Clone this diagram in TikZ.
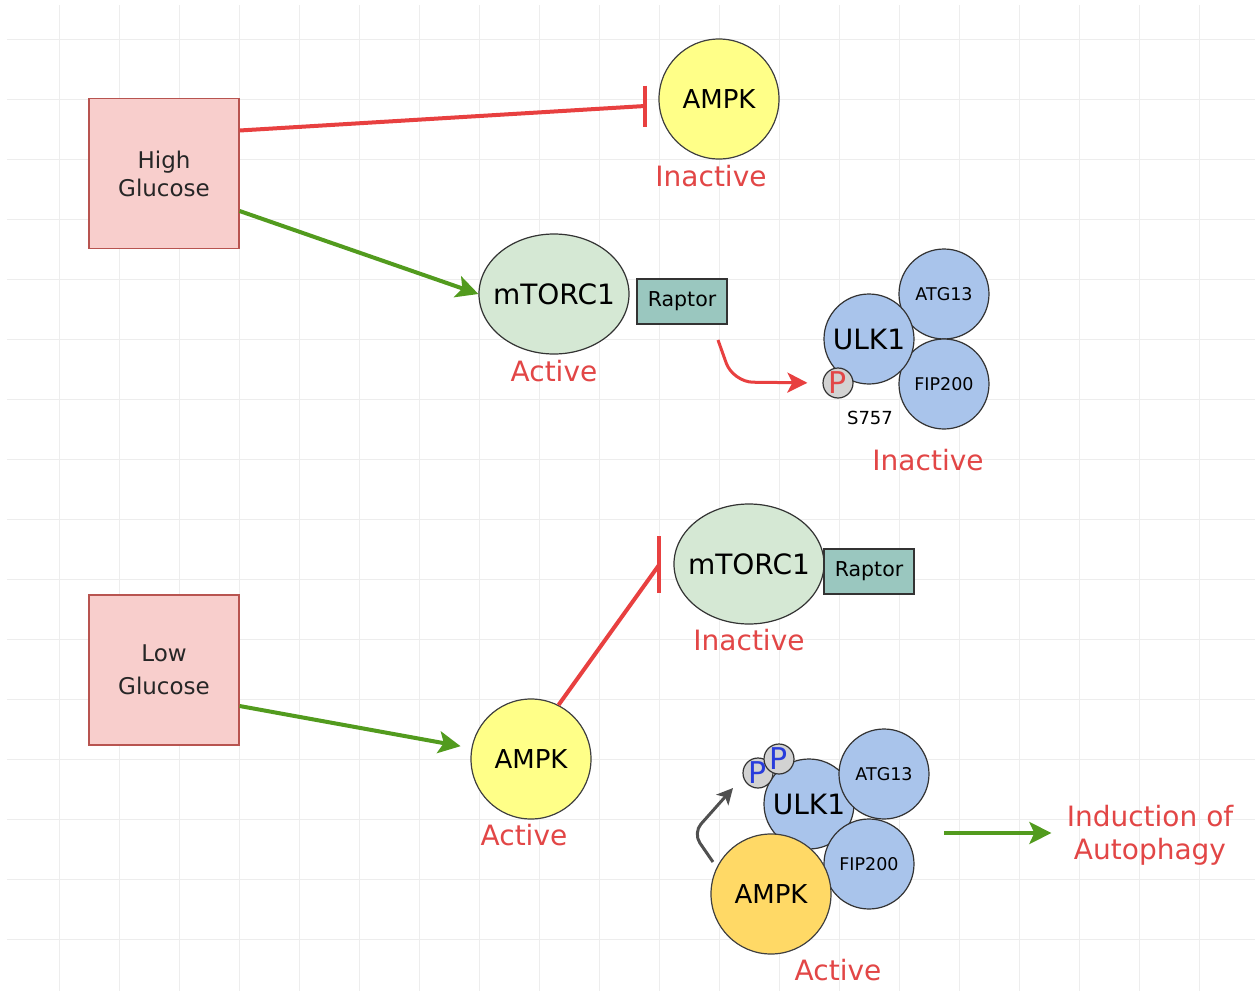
\documentclass[tikz,border=0pt]{standalone}
\usepackage{fontspec}
\setmainfont{DejaVu Sans}
\usetikzlibrary{arrows.meta,calc,shapes.geometric}
\definecolor{inhred}{RGB}{232,64,64}
\definecolor{statered}{RGB}{226,70,70}
\definecolor{actgreen}{RGB}{82,155,30}
\definecolor{glucosefill}{RGB}{248,206,204}
\definecolor{glucoseline}{RGB}{184,84,80}
\definecolor{ampkfill}{RGB}{255,255,136}
\definecolor{ampkon}{RGB}{255,217,102}
\definecolor{mtorfill}{RGB}{213,232,212}
\definecolor{raptorfill}{RGB}{154,199,191}
\definecolor{ulkfill}{RGB}{169,196,235}
\definecolor{pfill}{RGB}{210,210,210}
\definecolor{pblue}{RGB}{40,60,220}
\definecolor{kingray}{RGB}{80,80,80}
\begin{document}
\begin{tikzpicture}[x=0.5pt,y=-0.5pt,
	gridline/.style={draw=black!7,line width=0.5pt},
	glucose/.style={draw=glucoseline,fill=glucosefill,line width=0.6pt,minimum size=75pt,inner sep=0pt,align=center,text=black!85},
	ampk/.style={circle,draw=black!75,fill=ampkfill,line width=0.6pt,minimum size=60pt,inner sep=0pt,font=\fontsize{13}{15}\selectfont},
	mtor/.style={ellipse,draw=black!80,fill=mtorfill,line width=0.6pt,minimum width=75pt,minimum height=60pt,inner xsep=-5pt,inner ysep=0pt,font=\fontsize{14}{16}\selectfont},
	raptor/.style={draw=black!80,fill=raptorfill,line width=0.6pt,minimum width=45pt,minimum height=22.5pt,inner sep=0pt,font=\fontsize{10.25}{12}\selectfont},
	ulk/.style={circle,draw=black!80,fill=ulkfill,line width=0.6pt,minimum size=45pt,inner sep=0pt,font=\fontsize{14}{16}\selectfont},
	sub/.style={ulk,font=\fontsize{8.75}{10}\selectfont},
	phos/.style={circle,draw=black!80,fill=pfill,line width=0.6pt,minimum size=15pt,inner sep=-3pt,font=\fontsize{15}{15}\selectfont},
	state/.style={text=statered,inner sep=0pt,font=\fontsize{14}{16.5}\selectfont},
	inhibit/.style={draw=inhred,line width=2pt},
	activate/.style={draw=actgreen,line width=2pt,-{Stealth[length=11pt,width=11pt,inset=2.5pt]}},
	signal/.style={draw=inhred,line width=1.5pt,-{Stealth[length=10pt,width=10pt,inset=2.5pt]}},
	kinase/.style={draw=kingray,line width=1.5pt,-{Stealth[length=8pt,width=8pt,inset=2pt]}}]
	\useasboundingbox (0,0) rectangle (1255,991);
	\fill[white] (0,0) rectangle (1255,991);
	\foreach \x in {59,119,...,1199}
		\draw[gridline] (\x,5) -- (\x,991);
	\foreach \y in {39,99,...,939}
		\draw[gridline] (7,\y) -- (1255,\y);

	\node[glucose,font=\fontsize{11.5}{14}\selectfont] (hg) at (164,173.5) {High\\Glucose};
	\node[glucose,font=\fontsize{11.5}{16.5}\selectfont] (lg) at (164,670) {Low\\Glucose};

	\node[ampk] (ampk1) at (719,99) {AMPK};
	\node[state] (ampk1st) at (711,176) {Inactive};
	\coordinate (bar1) at (645,106);
	\draw[inhibit] ($(hg.east)+(0,-43)$) -- (bar1);
	\draw[inhibit] ($(bar1)+(0,-20.5)$) -- ($(bar1)+(0,20.5)$);

	\node[mtor] (mt1) at (554,294) {mTORC1};
	\node[state] (mt1st) at (554,371) {Active};
	\node[raptor] (rap1) at (682,301.5) {Raptor};
	\draw[activate] ($(hg.east)+(0,37.5)$) -- (mt1.west);

	\node[sub] (atg1) at (944,294) {ATG13};
	\node[sub] (fip1) at (944,384) {FIP200};
	\node[ulk] (ulk1) at (869,339) {ULK1};
	\node[phos,text=statered] (p1) at (838,383) {P};
	\node[inner sep=0pt,font=\fontsize{9}{10}\selectfont] (s757) at (870,418) {S757};
	\node[state] (ulk1st) at (928,460) {Inactive};
	\coordinate (rapout) at (718,340);
	\draw[signal,rounded corners=10pt,shorten >=7.5pt] (rapout) -- (733,382) -- (p1.west);

	\node[mtor] (mt2) at (749,564) {mTORC1};
	\node[raptor] (rap2) at (869,571.5) {Raptor};
	\node[state] (mt2st) at (749,640) {Inactive};

	\node[ampk] (ampk2) at (531,759) {AMPK};
	\node[state] (ampk2st) at (524,835) {Active};
	\draw[activate,shorten >=5.5pt] ($(lg.east)+(0,36)$) -- (ampk2);
	\coordinate (bar2) at (659,565);
	\draw[inhibit] (ampk2.63) -- (bar2);
	\draw[inhibit] ($(bar2)+(0,-29)$) -- ($(bar2)+(0,28)$);

	\node[ulk] (ulk2) at (809,804) {ULK1};
	\node[sub] (atg2) at (884,774) {ATG13};
	\node[sub] (fip2) at (869,864) {FIP200};
	\node[ampk,fill=ampkon] (ampk3) at (771,894) {AMPK};
	\node[phos,text=pblue] (p2) at (758,773) {P};
	\node[phos,text=pblue] (p3) at (779,759) {P};
	\node[state] (ampk3st) at (838,970) {Active};
	\coordinate (ampkout) at (713,862);
	\coordinate (ampkin) at (733,788);
	\draw[kinase,rounded corners=6pt] (ampkout) -- (693,833) -- (ampkin);

	\node[state,align=center] (auto) at (1150,835) {Induction of\\Autophagy};
	\coordinate (autoin) at (944,833);
	\draw[activate,shorten >=7.5pt] (autoin) -- (autoin -| auto.west);
\end{tikzpicture}
\end{document}
